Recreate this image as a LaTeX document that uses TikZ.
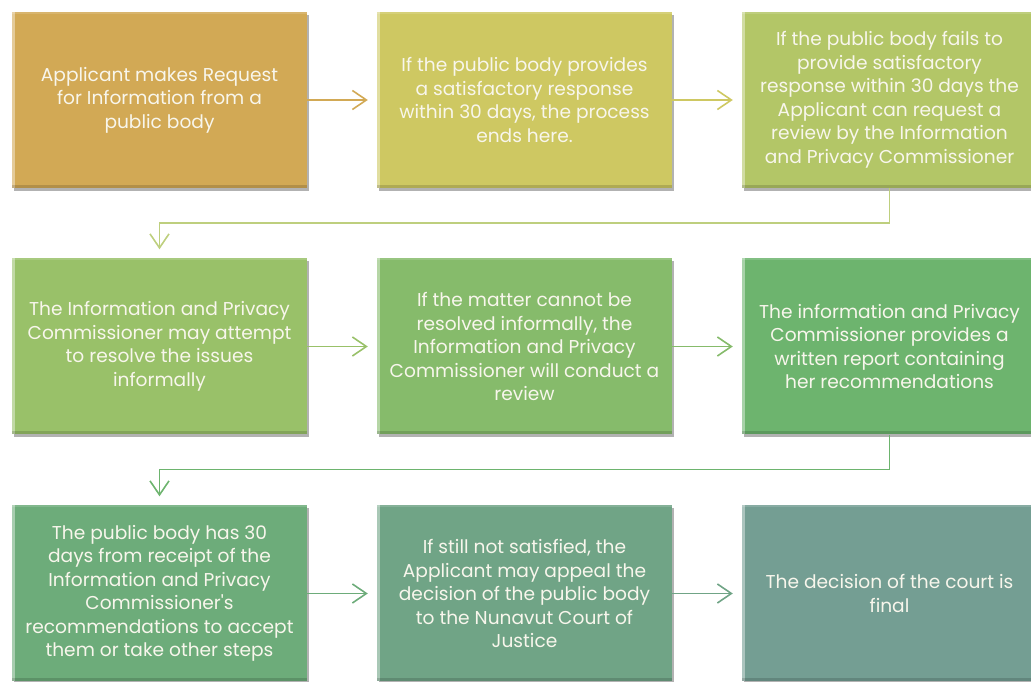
\documentclass[tikz,border=0pt]{standalone}
\usepackage{fontspec}
\setmainfont{Poppins}
\usetikzlibrary{arrows.meta,shadows}
\definecolor{c1}{HTML}{D2A955}
\definecolor{c2}{HTML}{CEC862}
\definecolor{c3}{HTML}{B3C667}
\definecolor{c4}{HTML}{99C169}
\definecolor{c5}{HTML}{86BB6B}
\definecolor{c6}{HTML}{6DB46E}
\definecolor{c7}{HTML}{6DAC7A}
\definecolor{c8}{HTML}{70A486}
\definecolor{c9}{HTML}{749E93}
\definecolor{cream}{HTML}{F8F6EC}
\tikzset{
  stepbox/.style={fill=#1, minimum width=295pt, minimum height=176pt, inner sep=0pt,
    text=cream, align=center, font=\fontsize{18.6}{23.5}\selectfont,
    drop shadow={fill=black, opacity=.3, shadow xshift=2pt, shadow yshift=-3pt},
    path picture={
      \fill[white, opacity=.4] (path picture bounding box.north west) rectangle ([xshift=3pt]path picture bounding box.south west);
      \fill[black, opacity=.15] (path picture bounding box.south west) rectangle ([yshift=3pt]path picture bounding box.south east);
      \fill[white, opacity=.15] (path picture bounding box.north west) rectangle ([yshift=-2pt]path picture bounding box.north east);
    }},
  flow/.style={draw=#1, line width=1.6pt, shorten >=9pt, -{Straight Barb[length=14pt,width=19pt]}}
}

\begin{document}
\begin{tikzpicture}[x=1pt, y=1pt]
    \useasboundingbox (0, 0) rectangle (1031, 682);
    % first row
    \node[stepbox=c1] (s1) at (159.5, 582) {Applicant makes Request\\for Information from a\\public body};
    \node[stepbox=c2] (s2) at (524.5, 582) {If the public body provides\\a satisfactory response\\within 30 days, the process\\ends here.};
    \node[stepbox=c3] (s3) at (889.5, 582) {If the public body fails to\\provide satisfactory\\response within 30 days the\\Applicant can request a\\review by the Information\\and Privacy Commissioner};
    % second row
    \node[stepbox=c4] (s4) at (159.5, 335.5) {The Information and Privacy\\Commissioner may attempt\\to resolve the issues\\informally};
    \node[stepbox=c5] (s5) at (524.5, 335.5) {If the matter cannot be\\resolved informally, the\\Information and Privacy\\Commissioner will conduct a\\review};
    \node[stepbox=c6] (s6) at (889.5, 335.5) {The information and Privacy\\Commissioner provides a\\written report containing\\her recommendations};
    % third row
    \node[stepbox=c7] (s7) at (159.5, 88.5) {The public body has 30\\days from receipt of the\\Information and Privacy\\Commissioner\textquotesingle s\\recommendations to accept\\them or take other steps};
    \node[stepbox=c8] (s8) at (524.5, 88.5) {If still not satisfied, the\\Applicant may appeal the\\decision of the public body\\to the Nunavut Court of\\Justice};
    \node[stepbox=c9] (s9) at (889.5, 88.5) {The decision of the court is\\final};
    % arrows along the rows
    \foreach \a/\b/\c in {s1/s2/c1, s2/s3/c2, s4/s5/c4, s5/s6/c5, s7/s8/c7, s8/s9/c8}
        \draw[flow=\c] (\a) -- (\b);
    % back to the start of the next row
    \draw[flow=c3!85!white] (s3.south) -- ++(0, -35) -| (s4.north);
    \draw[flow=c6] (s6.south) -- ++(0, -35) -| (s7.north);
\end{tikzpicture}
\end{document}
